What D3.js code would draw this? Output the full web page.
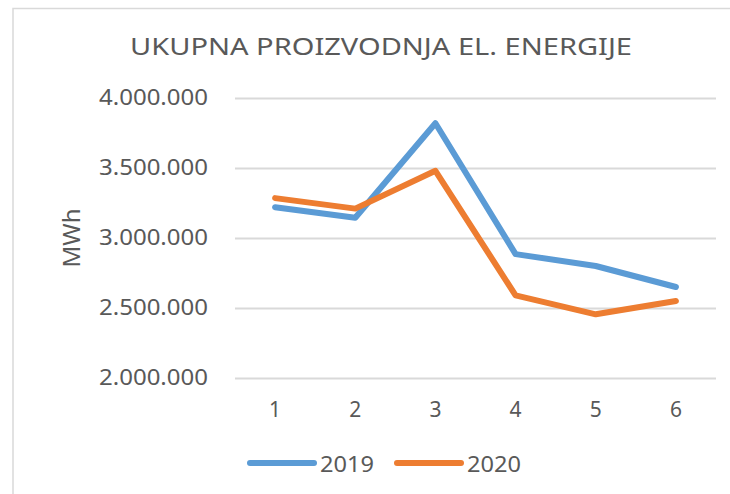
<!DOCTYPE html>
<html>
<head>
<meta charset="utf-8">
<script src="https://cdn.jsdelivr.net/npm/d3@7"></script>
<style>
  body { margin: 0; background: #fff; }
  svg { display: block; font-family: "Noto Sans", "Open Sans", sans-serif; }
  .axis text { fill: #595959; }
</style>
</head>
<body>
<div id="chart"></div>
<script>
// data
const months = [1, 2, 3, 4, 5, 6];
const values2019 = [3220000, 3145000, 3820000, 2885000, 2800000, 2650000];
const values2020 = [3285000, 3210000, 3480000, 2590000, 2455000, 2550000];
const yTicks = [2000000, 2500000, 3000000, 3500000, 4000000];
const seriesNames = ['2019', '2020'];
const seriesColors = ['#5B9BD5', '#ED7D31'];

const width = 730;
const height = 494;
const plot = { left: 235, right: 716, top: 98, bottom: 378 };
const textColor = '#595959';

const series = [values2019, values2020].map((vals, i) => ({
  name: seriesNames[i],
  color: seriesColors[i],
  values: vals.map((v, j) => ({ x: months[j], y: v })),
}));

const locale = d3.formatLocale({ decimal: ',', thousands: '.', grouping: [3], currency: ['', ''] });
const fmt = locale.format(',');

const svg = d3.select('#chart').append('svg')
  .attr('width', width)
  .attr('height', height);

// chart area frame (only top and left edges show in the window)
svg.append('rect')
  .attr('x', 13)
  .attr('y', 8.5)
  .attr('width', 800)
  .attr('height', 600)
  .attr('fill', '#fff')
  .attr('stroke', '#D9D9D9')
  .attr('stroke-width', 1.5);

const xScale = d3.scaleBand()
  .domain(months)
  .range([plot.left, plot.right])
  .padding(0);

const yScale = d3.scaleLinear()
  .domain([2000000, 4000000])
  .range([plot.bottom, plot.top]);

// y axis with gridlines
const yAxis = svg.append('g')
  .attr('class', 'axis axis--y')
  .attr('transform', `translate(${plot.left},0)`)
  .call(d3.axisLeft(yScale)
    .tickValues(yTicks)
    .tickFormat(fmt)
    .tickSize(-(plot.right - plot.left))
    .tickPadding(27));

yAxis.select('.domain').remove();
yAxis.selectAll('.tick line')
  .attr('stroke', '#D9D9D9')
  .attr('stroke-width', 2);
yAxis.selectAll('.tick text')
  .attr('font-size', 21)
  .attr('font-family', '"Noto Sans", sans-serif')
  .attr('textLength', 109)
  .attr('lengthAdjust', 'spacingAndGlyphs');

// x axis labels only
const xAxis = svg.append('g')
  .attr('class', 'axis axis--x')
  .attr('transform', `translate(0,${plot.bottom})`)
  .call(d3.axisBottom(xScale).tickSize(0).tickPadding(24));

xAxis.select('.domain').remove();
xAxis.selectAll('.tick text')
  .attr('font-size', 21)
  .attr('font-family', '"Noto Sans", sans-serif');

// lines
const line = d3.line()
  .x(d => xScale(d.x) + xScale.bandwidth() / 2)
  .y(d => yScale(d.y));

svg.append('g')
  .selectAll('path')
  .data(series)
  .enter()
  .append('path')
  .attr('d', d => line(d.values))
  .attr('fill', 'none')
  .attr('stroke', d => d.color)
  .attr('stroke-width', 6)
  .attr('stroke-linejoin', 'round')
  .attr('stroke-linecap', 'round');

// title
svg.append('text')
  .attr('x', 381)
  .attr('y', 55)
  .attr('text-anchor', 'middle')
  .attr('font-size', 24)
  .attr('fill', textColor)
  .attr('textLength', 502)
  .attr('lengthAdjust', 'spacingAndGlyphs')
  .text('UKUPNA PROIZVODNJA EL. ENERGIJE');

// y axis title
svg.append('text')
  .attr('transform', 'translate(80,238) rotate(-90)')
  .attr('text-anchor', 'middle')
  .attr('font-size', 24)
  .attr('fill', textColor)
  .text('MWh');

// legend
const legendX = [250, 397];
const legend = svg.append('g')
  .selectAll('g')
  .data(series)
  .enter()
  .append('g')
  .attr('transform', (d, i) => `translate(${legendX[i]},463)`);

legend.append('line')
  .attr('x1', 0)
  .attr('x2', 64)
  .attr('stroke', d => d.color)
  .attr('stroke-width', 6)
  .attr('stroke-linecap', 'round');

legend.append('text')
  .attr('x', 70)
  .attr('y', 9)
  .attr('font-size', 22)
  .attr('fill', textColor)
  .attr('textLength', 54)
  .attr('lengthAdjust', 'spacingAndGlyphs')
  .text(d => d.name);
</script>
</body>
</html>
